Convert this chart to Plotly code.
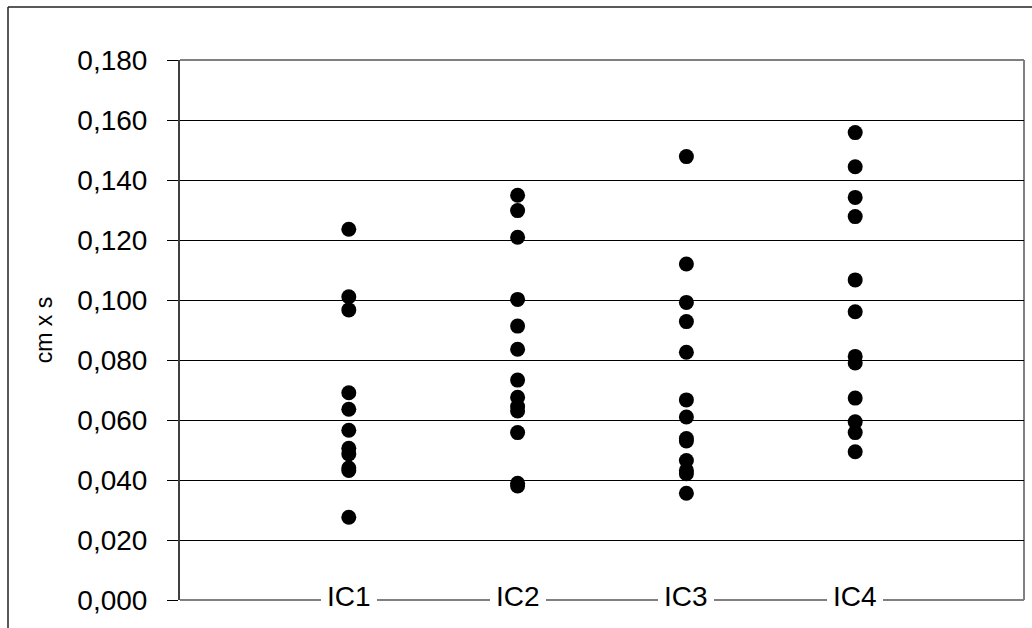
import plotly.graph_objects as go

# Measured values per group (cm x s)
categories = ["IC1", "IC2", "IC3", "IC4"]
ic1 = [0.1236, 0.1011, 0.0967, 0.0691, 0.0636, 0.0566, 0.0506, 0.0487, 0.0440, 0.0432, 0.0276]
ic2 = [0.1349, 0.1298, 0.1209, 0.1002, 0.0913, 0.0836, 0.0733, 0.0676, 0.0645, 0.0630,
       0.0558, 0.0389, 0.0380]
ic3 = [0.1478, 0.1120, 0.0992, 0.0928, 0.0826, 0.0667, 0.0610, 0.0538, 0.0530, 0.0465,
       0.0432, 0.0421, 0.0356]
ic4 = [0.1558, 0.1444, 0.1342, 0.1278, 0.1067, 0.0961, 0.0812, 0.0790, 0.0673, 0.0594,
       0.0558, 0.0494]
series = [ic1, ic2, ic3, ic4]
y_ticks = [0.0, 0.02, 0.04, 0.06, 0.08, 0.10, 0.12, 0.14, 0.16, 0.18]

W, H = 1032, 628
ML, MR, MT, MB = 180, 8, 60, 28
PW, PH = W - ML - MR, H - MT - MB


def px_x(p):
    return (p - ML) / PW


def px_y(p):
    return (H - MB - p) / PH


FONT = "Liberation Sans, Arial, sans-serif"

fig = go.Figure()
for i, vals in enumerate(series):
    fig.add_trace(go.Scatter(
        x=[i + 1] * len(vals), y=vals, mode="markers",
        marker=dict(size=15, color="black", line=dict(width=0)),
        name=categories[i], showlegend=False, cliponaxis=False,
    ))

# Category labels sit on the axis line, masking it with a white box
for i, name in enumerate(categories):
    fig.add_annotation(
        x=i + 1, y=0, xref="x", yref="y", text=name, showarrow=False,
        font=dict(family=FONT, size=28, color="black"),
        bgcolor="white", bordercolor="white", borderwidth=1, borderpad=5,
        xanchor="center", yanchor="middle", yshift=4,
    )

# Outer frame (top and left edges of the chart box)
fig.add_shape(type="line", xref="paper", yref="paper",
              x0=px_x(8), x1=px_x(1040), y0=px_y(7), y1=px_y(7),
              line=dict(color="#222222", width=1.5))
fig.add_shape(type="line", xref="paper", yref="paper",
              x0=px_x(8), x1=px_x(8), y0=px_y(7), y1=px_y(640),
              line=dict(color="#222222", width=1.5))
# Plot area border: top, right and bottom in grey
fig.add_shape(type="line", xref="paper", yref="paper",
              x0=1, x1=1, y0=0, y1=1, layer="below",
              line=dict(color="#808080", width=2))
fig.add_shape(type="line", xref="paper", yref="paper",
              x0=0, x1=1, y0=1, y1=1, layer="below",
              line=dict(color="#808080", width=2))
fig.add_shape(type="line", xref="paper", yref="paper",
              x0=0, x1=1, y0=0, y1=0, layer="below",
              line=dict(color="#808080", width=2))

fig.update_layout(
    width=W, height=H,
    margin=dict(l=ML, r=MR, t=MT, b=MB),
    paper_bgcolor="white", plot_bgcolor="white",
    separators=",.",
    font=dict(family=FONT, color="black"),
    xaxis=dict(
        range=[0, 5], showgrid=False, zeroline=False,
        showticklabels=False, ticks="", showline=False,
        fixedrange=True,
    ),
    yaxis=dict(
        range=[0, 0.18], tickvals=y_ticks, tickformat=".3f",
        showgrid=True, gridcolor="black", gridwidth=1, zeroline=False,
        showline=True, linecolor="#404040", linewidth=2,
        ticks="outside", ticklen=11, tickcolor="black", tickwidth=1,
        tickfont=dict(family=FONT, size=28, color="black"),
        ticklabelstandoff=14,
        title=dict(text="cm x s", font=dict(family=FONT, size=23, color="black"),
                   standoff=18),
        fixedrange=True,
    ),
)

fig.write_html("out.html")
